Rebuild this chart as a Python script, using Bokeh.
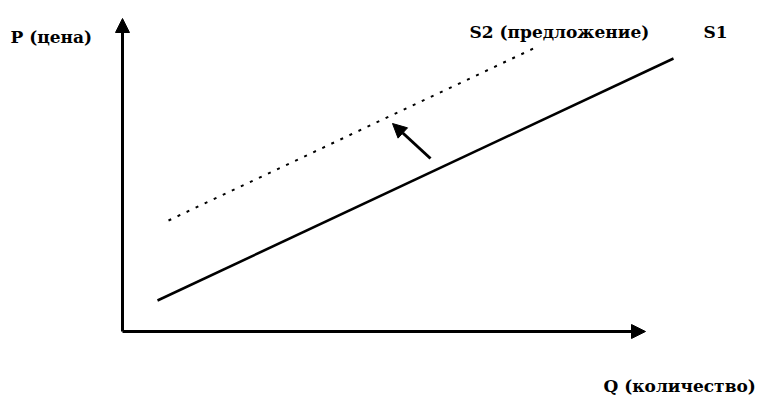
from bokeh.plotting import figure
from bokeh.models import Range1d, Arrow, NormalHead, ColumnDataSource
from bokeh.core.properties import value
from bokeh.embed import file_html
from bokeh.resources import INLINE

# Axes (conceptual units: Q horizontal, P vertical)
axis_origin = (0, 0)
q_axis_end = 523
p_axis_end = 313

# Supply curves (endpoints)
s1_q = [35, 551]
s1_p = [31, 273]
s2_q = [46, 411]
s2_p = [111, 283]

# Shift arrow
shift_from = (308, 173)
shift_to = (270, 208)

# Labels
label_text = ["P (цена)", "S2 (предложение)", "S1", "Q (количество)"]
label_q = [-112, 347, 581, 481]
label_p = [295, 300, 300, -54]

FONT = "DejaVu Serif"

p = figure(width=761, height=396, x_range=Range1d(-122, 639), y_range=Range1d(-65, 331),
           output_backend="svg", toolbar_location=None, min_border=0)
p.axis.visible = False
p.grid.visible = False
p.outline_line_color = None
p.background_fill_color = "white"
p.border_fill_color = "white"

# Axes with arrows
p.add_layout(Arrow(x_start=axis_origin[0], y_start=axis_origin[1], x_end=axis_origin[0], y_end=p_axis_end,
                   line_width=3, line_color="black",
                   end=NormalHead(size=14, fill_color="black", line_color="black", line_width=1)))
p.add_layout(Arrow(x_start=axis_origin[0], y_start=axis_origin[1], x_end=q_axis_end, y_end=axis_origin[1],
                   line_width=3, line_color="black",
                   end=NormalHead(size=14, fill_color="black", line_color="black", line_width=1)))

# S1 and S2
p.line(s1_q, s1_p, line_width=2.5, line_color="black")
p.line(s2_q, s2_p, line_width=2, line_color="black", line_dash="3 7")

# Shift arrow
p.add_layout(Arrow(x_start=shift_from[0], y_start=shift_from[1], x_end=shift_to[0], y_end=shift_to[1],
                   line_width=3, line_color="black",
                   end=NormalHead(size=14, fill_color="black", line_color="black", line_width=1)))

src = ColumnDataSource(dict(x=label_q, y=label_p, t=label_text))
p.text(x="x", y="y", text="t", source=src, text_font=value(FONT), text_font_size="17px",
       text_font_style="bold", text_color="black", text_baseline="alphabetic", text_align="left")

open("out.html", "w").write(file_html(p, INLINE))
